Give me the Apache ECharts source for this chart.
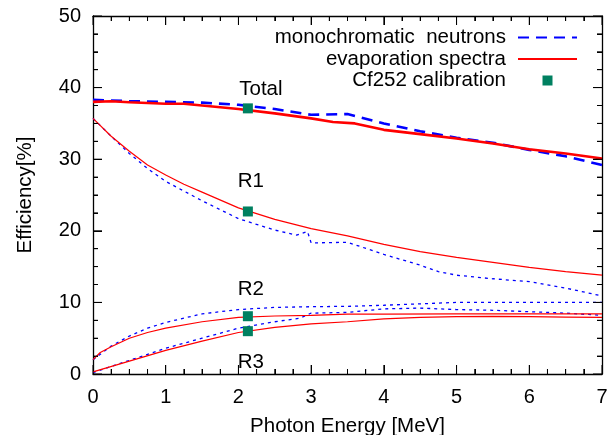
<!DOCTYPE html>
<html>
<head>
<meta charset="utf-8">
<script src="https://cdn.jsdelivr.net/npm/echarts@6/dist/echarts.min.js"></script>
<style>html,body{margin:0;padding:0;background:#fff}#c{width:609px;height:435px}</style>
</head>
<body>
<div id="c"></div>
<script>
// ---- data ----
const totMonoE = [0, 0.5, 1, 1.5, 2, 2.5, 3, 3.5, 4, 4.5, 5, 5.5, 6, 6.5, 7];
const totMono  = [38.3, 38.1, 38.0, 37.9, 37.6, 37.0, 36.2, 36.3, 35.0, 33.9, 33.0, 32.3, 31.3, 30.4, 29.2];
const totEvapE = [0, 0.25, 0.5, 1.0, 1.25, 1.5, 2.0, 2.5, 3.0, 3.3, 3.6, 4.0, 4.5, 5.0, 5.5, 6.0, 6.5, 7.0];
const totEvap  = [38.0, 38.1, 37.95, 37.75, 37.75, 37.5, 37.0, 36.4, 35.7, 35.2, 35.0, 34.1, 33.5, 32.9, 32.2, 31.4, 30.8, 30.1];
const r1EvapE = [0, 0.25, 0.5, 0.75, 1, 1.25, 1.5, 2, 2.5, 3, 3.5, 4, 4.5, 5, 5.5, 6, 6.5, 7];
const r1Evap  = [35.7, 33.2, 31.1, 29.2, 27.8, 26.5, 25.4, 23.2, 21.6, 20.3, 19.3, 18.1, 17.1, 16.3, 15.6, 14.9, 14.3, 13.8];
const r1MonoE = [0, 0.25, 0.5, 0.75, 1, 1.5, 2, 2.5, 2.8, 2.95, 3.0, 3.5, 4, 4.5, 4.75, 5, 5.5, 6, 6.5, 7];
const r1Mono  = [35.7, 33.2, 30.8, 28.7, 26.9, 24.2, 21.7, 20.1, 19.4, 19.9, 18.3, 18.4, 16.7, 15.2, 14.3, 13.8, 13.3, 12.9, 12.0, 10.9];
const r2EvapE = [0, 0.1, 0.25, 0.5, 0.75, 1, 1.5, 2, 2.5, 3, 3.5, 4, 5, 6, 7];
const r2Evap  = [2.0, 3.0, 3.8, 5.0, 5.8, 6.4, 7.3, 7.9, 8.1, 8.2, 8.35, 8.35, 8.4, 8.4, 8.4];
const r2MonoE = [0, 0.25, 0.5, 0.75, 1, 1.5, 2, 2.5, 3, 3.5, 4, 4.5, 5, 5.5, 6, 6.5, 7];
const r2Mono  = [2.0, 3.9, 5.3, 6.4, 7.2, 8.4, 9.0, 9.3, 9.4, 9.45, 9.6, 9.8, 10.0, 10.0, 10.0, 10.0, 10.0];
const r3EvapE = [0, 0.5, 1, 1.5, 2, 2.5, 3, 3.5, 4, 4.5, 5, 5.5, 6, 6.5, 7];
const r3Evap  = [0.3, 1.8, 3.3, 4.6, 5.8, 6.5, 7.0, 7.3, 7.7, 7.9, 8.0, 8.05, 8.0, 7.95, 7.9];
const r3MonoE = [0, 0.5, 1, 1.5, 2, 2.5, 2.85, 3.0, 3.5, 4, 4.5, 5, 5.5, 6, 6.5, 7];
const r3Mono  = [0.2, 1.9, 3.6, 5.0, 6.4, 7.3, 7.8, 8.5, 8.6, 9.1, 9.2, 9.0, 8.9, 8.7, 8.5, 8.2];
const calE = [2.13, 2.13, 2.13, 2.13];
const calV = [37.1, 22.7, 8.07, 5.98];
const calLabels = ['Total', 'R1', 'R2', 'R3'];
const xTicks = [0, 1, 2, 3, 4, 5, 6, 7];
const yTicks = [0, 10, 20, 30, 40, 50];
const minorSplit = 4;

// ---- chart ----
const FONT = '"Liberation Sans", Arial, sans-serif';
const pairs = (xs, ys) => xs.map((x, i) => [x, ys[i]]);
const BLUE = '#0000ff', RED = '#ff0000', GREEN = '#008060';
const xMin = xTicks[0], xMax = xTicks[xTicks.length - 1];
const yMin = yTicks[0], yMax = yTicks[yTicks.length - 1];
const GRID = { left: 93, right: 7, top: 16, bottom: 61 };

function makeAxis(extra) {
  const base = {
    type: 'value',
    splitLine: { show: false },
    axisLine: { show: true, onZero: false, lineStyle: { color: '#000', width: 1.3 } },
    axisTick: { show: true, inside: true, length: 9, lineStyle: { color: '#000', width: 1 } },
    minorTick: { show: true, splitNumber: minorSplit, length: 5, lineStyle: { color: '#000', width: 1 } },
    axisLabel: { show: true, color: '#000', fontSize: 20, fontFamily: FONT }
  };
  return Object.assign(base, extra);
}

const lineSeries = (name, xs, ys, color, width, dash, z) => ({
  name, type: 'line', data: pairs(xs, ys), showSymbol: false, symbol: 'none',
  lineStyle: { color, width, type: dash }, itemStyle: { color }, z, silent: true
});

const el = document.getElementById('c');
const chart = echarts.init(el, null, { renderer: 'canvas' });
chart.setOption({
  animation: false,
  backgroundColor: '#fff',
  grid: Object.assign({ outerBoundsMode: 'none' }, GRID),
  legend: {
    orient: 'vertical', right: 31, top: 27, align: 'right', padding: 0,
    itemWidth: 59, itemHeight: 10, itemGap: 0.5, selectedMode: false,
    textStyle: { fontSize: 20.5, lineHeight: 20, fontFamily: FONT, color: '#000', padding: [0, 7, 0, 0] },
    data: [
      { name: 'monochromatic  neutrons', itemStyle: { opacity: 0 } },
      { name: 'evaporation spectra', itemStyle: { opacity: 0 } },
      { name: 'Cf252 calibration', icon: 'path://M0 0L1 0L1 1L0 1Z' }
    ]
  },
  xAxis: [
    makeAxis({
      min: xMin, max: xMax, interval: 1, position: 'bottom',
      name: 'Photon Energy [MeV]', nameLocation: 'middle', nameGap: 42,
      nameTextStyle: { fontSize: 20.5, fontFamily: FONT, color: '#000' },
      axisLabel: { show: true, color: '#000', fontSize: 20, fontFamily: FONT, margin: 13 }
    }),
    makeAxis({ min: xMin, max: xMax, interval: 1, position: 'top', axisLabel: { show: false } })
  ],
  yAxis: [
    makeAxis({
      min: yMin, max: yMax, interval: 10, position: 'left',
      name: 'Efficiency[%]', nameLocation: 'middle', nameGap: 57,
      nameTextStyle: { fontSize: 20.5, fontFamily: FONT, color: '#000' },
      axisLabel: { show: true, color: '#000', fontSize: 20, fontFamily: FONT, margin: 12 }
    }),
    makeAxis({ min: yMin, max: yMax, interval: 10, position: 'right', axisLabel: { show: false } })
  ],
  series: [
    lineSeries('monochromatic  neutrons', totMonoE, totMono, BLUE, 2.6, [11, 7], 3),
    lineSeries('evaporation spectra', totEvapE, totEvap, RED, 2.6, 'solid', 4),
    lineSeries('R1 mono', r1MonoE, r1Mono, BLUE, 1.3, [3, 4], 3),
    lineSeries('R1 evap', r1EvapE, r1Evap, RED, 1.2, 'solid', 4),
    lineSeries('R2 mono', r2MonoE, r2Mono, BLUE, 1.3, [3, 4], 3),
    lineSeries('R2 evap', r2EvapE, r2Evap, RED, 1.2, 'solid', 4),
    lineSeries('R3 mono', r3MonoE, r3Mono, BLUE, 1.3, [3, 4], 3),
    lineSeries('R3 evap', r3EvapE, r3Evap, RED, 1.2, 'solid', 4),
    {
      name: 'Cf252 calibration', type: 'scatter', symbol: 'rect', symbolSize: 10,
      itemStyle: { color: GREEN, opacity: 1 }, z: 10, silent: true,
      data: calE.map((e, i) => ({
        value: [e, calV[i]],
        label: {
          show: true, formatter: calLabels[i], color: '#000', fontSize: 20.5, fontFamily: FONT,
          position: i === 3 ? 'bottom' : 'top',
          distance: [4, 15, 11, 16][i],
          offset: [[13, 0], [3, 0], [3, 0], [3, 0]][i]
        }
      }))
    }
  ]
});

// Mirrored frame ticks, drawn as a line series whose segment lengths come from the chart's own pixel<->data conversion.
const o = chart.convertFromPixel({ gridIndex: 0 }, [0, 0]);
const pMaj = chart.convertFromPixel({ gridIndex: 0 }, [9, 9]);
const pMin = chart.convertFromPixel({ gridIndex: 0 }, [5, 5]);
const dxMaj = Math.abs(pMaj[0] - o[0]), dyMaj = Math.abs(pMaj[1] - o[1]);
const dxMin = Math.abs(pMin[0] - o[0]), dyMin = Math.abs(pMin[1] - o[1]);
const tickData = [];
function pushSeg(a, b) { tickData.push(a, b, [a[0], '-']); }
function eachTick(ticks, fn) {
  ticks.forEach((t, i) => {
    fn(t, true);
    if (i < ticks.length - 1) {
      const step = (ticks[i + 1] - t) / minorSplit;
      for (let k = 1; k < minorSplit; k++) fn(t + k * step, false);
    }
  });
}
eachTick(xTicks, (x, major) => {
  const d = major ? dyMaj : dyMin;
  pushSeg([x, yMin], [x, yMin + d]);
  pushSeg([x, yMax], [x, yMax - d]);
});
eachTick(yTicks, (y, major) => {
  const d = major ? dxMaj : dxMin;
  pushSeg([xMin, y], [xMin + d, y]);
  pushSeg([xMax, y], [xMax - d, y]);
});
chart.setOption({
  series: [{
    id: 'frameTicks', name: 'frame ticks', type: 'line', data: tickData,
    showSymbol: false, symbol: 'none', connectNulls: false, clip: false, silent: true, z: 5,
    lineStyle: { color: '#000', width: 1, type: 'solid' }
  }]
});
</script>
</body>
</html>
